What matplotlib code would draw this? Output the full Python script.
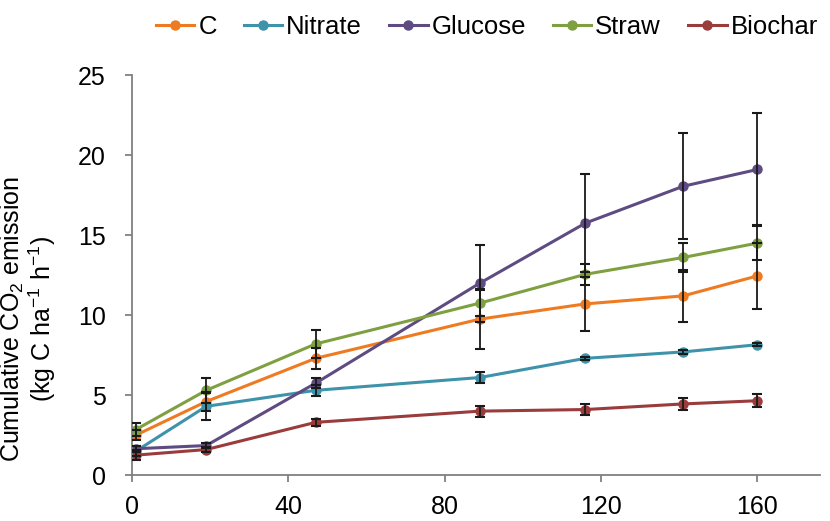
import numpy as np
import matplotlib
matplotlib.use("Agg")
import matplotlib.pyplot as plt

plt.rcParams['font.family'] = ['Liberation Sans', 'DejaVu Sans']
plt.rcParams['mathtext.fontset'] = 'custom'
plt.rcParams['mathtext.rm'] = 'Liberation Sans'

# dias de incubacion
dias = [1, 19, 47, 89, 116, 141, 160]

tratamientos = ['C', 'Nitrate', 'Glucose', 'Straw', 'Biochar']
colores = ['#EE7B22', '#3E93AA', '#5E4B82', '#7FA041', '#9A3B3C']

c_val = [2.5, 4.6, 7.3, 9.75, 10.7, 11.2, 12.45]
c_err = [0.3, 0.6, 0.65, 1.85, 1.7, 1.63, 2.05]

nitrato_val = [1.5, 4.3, 5.3, 6.1, 7.3, 7.7, 8.15]
nitrato_err = [0.3, 0.85, 0.35, 0.35, 0.1, 0.1, 0.1]

glucosa_val = [1.65, 1.85, 5.75, 12.0, 15.75, 18.05, 19.1]
glucosa_err = [0.2, 0.15, 0.3, 2.4, 3.05, 3.3, 3.5]

paja_val = [2.85, 5.3, 8.2, 10.75, 12.55, 13.6, 14.5]
paja_err = [0.4, 0.8, 0.9, 0.8, 0.65, 0.9, 1.08]

biochar_val = [1.25, 1.6, 3.3, 4.0, 4.1, 4.45, 4.65]
biochar_err = [0.3, 0.15, 0.2, 0.35, 0.35, 0.35, 0.4]

valores = [c_val, nitrato_val, glucosa_val, paja_val, biochar_val]
errores = [c_err, nitrato_err, glucosa_err, paja_err, biochar_err]

fig = plt.figure(figsize=(8.3, 5.21), dpi=100)
ax = fig.add_axes([0.159, 0.088, 0.829, 0.768])

# primero las lineas, luego las barras de error encima
lineas = []
for nombre, col, val in zip(tratamientos, colores, valores):
    l, = ax.plot(dias, val, color=col, marker='o', markersize=6.5, linewidth=2.2, label=nombre, zorder=2)
    lineas.append(l)
for val, err in zip(valores, errores):
    ax.errorbar(dias, val, yerr=err, fmt='none', ecolor='#1a1a1a', elinewidth=1.3,
                capsize=3.5, capthick=1.5, zorder=3)

ax.set_xlim(0, 176)
ax.set_ylim(0, 25)
ax.set_xticks([0, 40, 80, 120, 160])
ax.set_yticks([0, 5, 10, 15, 20, 25])
ax.tick_params(labelsize=18, direction='out', length=5, width=1.3, color='#808080')
ax.tick_params(axis='y', pad=14)
ax.tick_params(axis='x', pad=9)

for s in ['top', 'right']:
    ax.spines[s].set_visible(False)
for s in ['left', 'bottom']:
    ax.spines[s].set_color('#808080')
    ax.spines[s].set_linewidth(1.3)

ax.set_ylabel('Cumulative CO$_2$ emission\n(kg C ha$^{\\mathrm{-1}}$ h$^{\\mathrm{-1}}$)', fontsize=18,
              linespacing=1.0)
ax.yaxis.set_label_coords(-0.108, 0.39)

fig.legend(handles=lineas, loc='upper right', bbox_to_anchor=(1.013, 1.015), ncol=5, frameon=False,
           fontsize=18.5, handlelength=1.5, handletextpad=0.15, columnspacing=1.05)

plt.savefig('out.png', dpi=100)
plt.close()
